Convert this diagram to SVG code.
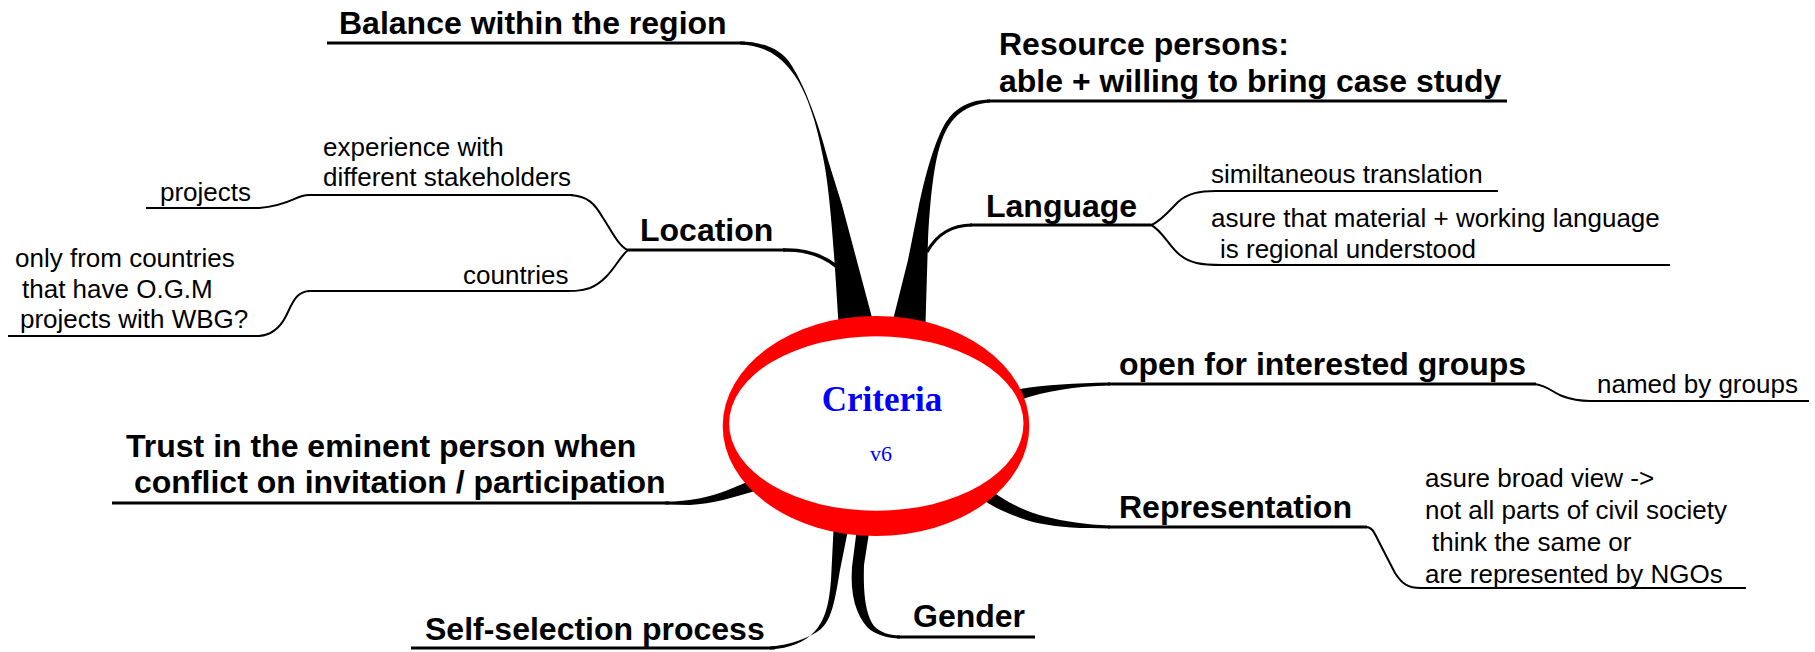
<svg xmlns="http://www.w3.org/2000/svg" width="1815" height="652" viewBox="0 0 1815 652">
  <style>
    .b { font-family: "Liberation Sans", Arial, sans-serif; font-weight: bold; font-size: 32px; fill: #000; }
    .r { font-family: "Liberation Sans", Arial, sans-serif; font-size: 26px; fill: #000; }
    .ul { fill: none; stroke: #000; stroke-width: 2.8; }
    .ln { fill: none; stroke: #000; stroke-width: 2; }
    .cn { fill: none; stroke: #000; stroke-width: 2; stroke-linejoin: round; }
    .tk { fill: #000; stroke: none; }
  </style>
  <rect width="1815" height="652" fill="#fff"/>

  <!-- branch connectors: tapered trunks from the centre, thin curves to sub-topics -->
  <g id="connectors">
    <!-- Balance within the region -->
    <path class="tk" d="M 740 41.5 C 760 41.5, 780 48, 790 63 C 802 80, 818 120, 828 160 L 842 205 L 878 340 L 840 340 L 838 316 C 834 250, 830 190, 823 157 C 816 120, 806 90, 792 72 C 780 56, 765 45.5, 740 44.5 Z"/>
    <!-- Location joins the Balance trunk -->
    <path d="M 783 250 C 805 249, 822 255, 836 266" fill="none" stroke="#000" stroke-width="3.5"/>
    <!-- Resource persons -->
    <path class="tk" d="M 990 99.5 C 970 99.5, 955 108, 946 122 C 935 140, 925 175, 918 210 L 908 260 L 888 340 L 925 340 L 928 240 C 930 200, 934 160, 942 140 C 950 118, 965 104, 990 102.5 Z"/>
    <!-- Language joins the Resource trunk -->
    <path d="M 972 225 C 955 225, 938 232, 927 252" fill="none" stroke="#000" stroke-width="3.2"/>
    <!-- open for interested groups -->
    <path class="tk" d="M 1020 389 C 1045 385, 1075 383.5, 1110 382.6 L 1110 385.6 C 1075 386.5, 1045 391, 1020 400 Z"/>
    <!-- Representation -->
    <path class="tk" d="M 985 486 C 1000 498, 1020 510, 1045 516.5 C 1065 521.5, 1085 524.5, 1110 525.6 L 1110 528.4 C 1080 528.4, 1060 527.5, 1040 523.5 C 1020 519, 1000 511, 985 501 Z"/>
    <!-- Trust in the eminent person -->
    <path class="tk" d="M 665 501.6 C 690 501.6, 710 497, 728 490 L 752 480 L 755 491 C 735 497, 712 504, 690 505 L 665 504.4 Z"/>
    <!-- Self-selection process -->
    <path class="tk" d="M 834 520 L 831 580 C 829 605, 825 620, 815 631 C 805 642, 790 648.5, 770 649.4 L 770 646.6 C 790 645, 810 638, 821 629 C 832 619, 835 600, 840 570 L 850 520 Z"/>
    <!-- Gender -->
    <path class="tk" d="M 858 520 L 852 567 C 850 595, 856 615, 868 628 C 876 635, 888 638.4, 900 638.4 L 900 635.6 C 888 635.4, 880 632, 874 626 C 866 615, 863 595, 864 565 L 871 520 Z"/>

    <!-- Location sub-topics -->
    <path class="cn" d="M 628 250 C 618 246, 610 228, 603 218 C 595 204, 588 196, 570 195"/>
    <path class="cn" d="M 309 195 C 295 195, 292 205, 259 208"/>
    <path class="cn" d="M 628 250 C 618 258, 610 280, 590 288 C 580 291, 575 291, 565 291"/>
    <path class="cn" d="M 310 291 C 296 291, 292 304, 286 316 C 280 328, 272 335, 259 336"/>
    <!-- Language sub-topics -->
    <path class="cn" d="M 1151 225 C 1160 222, 1170 210, 1178 202 C 1188 193, 1200 191, 1216 191"/>
    <path class="cn" d="M 1151 225 C 1162 230, 1170 248, 1180 255 C 1190 263, 1200 265, 1222 265"/>
    <!-- open for interested groups -> named by groups -->
    <path class="cn" d="M 1535 384 C 1548 386, 1552 392, 1562 396 C 1570 399, 1578 401, 1590 401"/>
    <!-- Representation -> details -->
    <path class="cn" d="M 1366 527 C 1372 527, 1374 532, 1378 540 L 1395 573 C 1402 584, 1408 588, 1421 588"/>
  </g>

  <!-- central topic -->
  <g id="center">
    <ellipse cx="876" cy="426" rx="153.3" ry="110" fill="#ff0000"/>
    <ellipse cx="876.3" cy="423.5" rx="147.2" ry="87.3" fill="#fff"/>
    <text x="882" y="411" text-anchor="middle" font-family="'Liberation Serif', 'Times New Roman', serif" font-weight="bold" font-size="35" fill="#0000ff">Criteria</text>
    <text x="881" y="461" text-anchor="middle" font-family="'Liberation Serif', 'Times New Roman', serif" font-size="22" fill="#0000ff">v6</text>
  </g>

  <g id="balance">
    <line class="ul" x1="327" y1="43" x2="745" y2="43"/>
    <text class="b" x="339" y="34">Balance within the region</text>
  </g>

  <g id="resource">
    <line class="ul" x1="987" y1="101" x2="1507" y2="101"/>
    <text class="b" x="999" y="55">Resource persons:</text>
    <text class="b" x="999" y="92">able + willing to bring case study</text>
  </g>

  <g id="language">
    <line class="ul" x1="970" y1="225" x2="1151" y2="225"/>
    <text class="b" x="986" y="217">Language</text>
  </g>
  <g id="translation">
    <line class="ln" x1="1215" y1="191" x2="1498" y2="191"/>
    <text class="r" x="1211" y="183">similtaneous translation</text>
  </g>
  <g id="material">
    <line class="ln" x1="1221" y1="265" x2="1670" y2="265"/>
    <text class="r" x="1211" y="227">asure that material + working language</text>
    <text class="r" x="1220" y="258">is regional understood</text>
  </g>

  <g id="location">
    <line class="ul" x1="628" y1="250" x2="785" y2="250"/>
    <text class="b" x="640" y="241">Location</text>
  </g>
  <g id="experience">
    <line class="ln" x1="308" y1="195" x2="573" y2="195"/>
    <text class="r" x="323" y="156">experience with</text>
    <text class="r" x="323" y="186">different stakeholders</text>
  </g>
  <g id="projects">
    <line class="ln" x1="146" y1="208" x2="260" y2="208"/>
    <text class="r" x="160" y="201">projects</text>
  </g>
  <g id="countries">
    <line class="ln" x1="308" y1="291" x2="569" y2="291"/>
    <text class="r" x="463" y="284">countries</text>
  </g>
  <g id="ogm">
    <line class="ln" x1="8" y1="336" x2="260" y2="336"/>
    <text class="r" x="15" y="267">only from countries</text>
    <text class="r" x="22" y="298">that have O.G.M</text>
    <text class="r" x="20" y="328">projects with WBG?</text>
  </g>

  <g id="open">
    <line class="ul" x1="1108" y1="384" x2="1536" y2="384"/>
    <text class="b" x="1119" y="375">open for interested groups</text>
  </g>
  <g id="named">
    <line class="ln" x1="1589" y1="401" x2="1809" y2="401"/>
    <text class="r" x="1597" y="393">named by groups</text>
  </g>

  <g id="representation">
    <line class="ul" x1="1108" y1="527" x2="1367" y2="527"/>
    <text class="b" x="1119" y="518">Representation</text>
  </g>
  <g id="broadview">
    <line class="ln" x1="1420" y1="588" x2="1746" y2="588"/>
    <text class="r" x="1425" y="487">asure broad view -&gt;</text>
    <text class="r" x="1425" y="519">not all parts of civil society</text>
    <text class="r" x="1432" y="551">think the same or</text>
    <text class="r" x="1425" y="583">are represented by NGOs</text>
  </g>

  <g id="trust">
    <line class="ul" x1="112" y1="503" x2="669" y2="503"/>
    <text class="b" x="126" y="457">Trust in the eminent person when</text>
    <text class="b" x="134" y="493">conflict on invitation / participation</text>
  </g>

  <g id="selfselection">
    <line class="ul" x1="411" y1="648" x2="775" y2="648"/>
    <text class="b" x="425" y="640">Self-selection process</text>
  </g>

  <g id="gender">
    <line class="ul" x1="897" y1="637" x2="1035" y2="637"/>
    <text class="b" x="913" y="627">Gender</text>
  </g>
</svg>
